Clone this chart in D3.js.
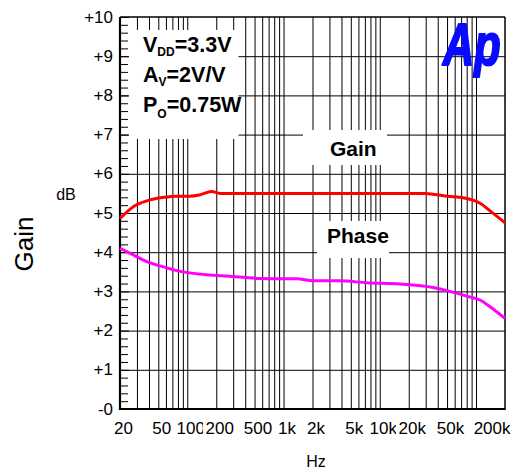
<!DOCTYPE html>
<html><head><meta charset="utf-8">
<script src="https://cdn.jsdelivr.net/npm/d3@7"></script>
<style>
html,body{margin:0;padding:0;background:#fff;}
svg{display:block;font-family:"Liberation Sans",Arial,Helvetica,sans-serif;}
</style></head>
<body><svg id="c" width="516" height="471"></svg>
<script>
// ---- data ----
const gainFreq = [20, 27.5, 38, 57, 77, 105, 133, 179, 219, 500, 1000, 2000, 5000, 10000, 29500, 49500, 80000, 110000, 151000, 200000];
const gainDb   = [4.86, 5.16, 5.31, 5.40, 5.43, 5.43, 5.46, 5.55, 5.50, 5.50, 5.50, 5.50, 5.50, 5.50, 5.50, 5.43, 5.37, 5.25, 4.99, 4.75];
const phaseFreq = [20, 27.5, 38, 52, 78, 115, 172, 257, 382, 570, 1370, 2040, 3860, 7300, 16200, 36000, 53700, 80000, 110000, 140000, 200000];
const phaseVal  = [4.10, 3.93, 3.76, 3.65, 3.53, 3.46, 3.42, 3.39, 3.36, 3.33, 3.32, 3.27, 3.27, 3.22, 3.19, 3.10, 3.00, 2.88, 2.78, 2.61, 2.31];
const xTicks = [20, 50, 100, 200, 500, 1000, 2000, 5000, 10000, 20000, 50000, 200000];
const xTickLabels = ["20", "50", "100", "200", "500", "1k", "2k", "5k", "10k", "20k", "50k", "200k"];
const yTicks = [0, 1, 2, 3, 4, 5, 6, 7, 8, 9, 10];
const yTickLabels = ["-0", "+1", "+2", "+3", "+4", "+5", "+6", "+7", "+8", "+9", "+10"];

// ---- layout ----
const L = 120, R = 505, T = 17, B = 409;
const svg = d3.select("#c");
const x = d3.scaleLog().domain([20, 200000]).range([L, R]);
const y = d3.scaleLinear().domain([0, 10]).range([B, T]);
const FONT = "'Liberation Sans',Arial,sans-serif";

// grid values
const gridF = [];
[10, 100, 1000, 10000, 100000].forEach(b => { for (let m = 1; m <= 9; m++) { const f = m * b; if (f > 20 && f < 200000) gridF.push(f); } });
const minorY = d3.range(0, 50).map(i => i / 5).filter(v => v % 1 !== 0);

// vertical grid
const gx = svg.append("g").attr("transform", `translate(0,${B})`)
  .call(d3.axisBottom(x).tickValues(gridF).tickSize(-(B - T)).tickFormat(""));
gx.select(".domain").remove();
gx.selectAll("line").attr("stroke", "#000").attr("stroke-width", 1);

// horizontal grid
const gy = svg.append("g").attr("transform", `translate(${L},0)`)
  .call(d3.axisLeft(y).tickValues(yTicks.filter(v => v > 0 && v < 10)).tickSize(-(R - L)).tickFormat(""));
gy.select(".domain").remove();
gy.selectAll("line").attr("stroke", "#000").attr("stroke-width", 1);

// white label boxes covering grid
svg.append("rect").attr("x", 128.5).attr("y", 30).attr("width", 110).attr("height", 109).attr("fill", "#fff");
svg.append("rect").attr("x", 303).attr("y", 130).attr("width", 84).attr("height", 35).attr("fill", "#fff");
svg.append("rect").attr("x", 317).attr("y", 221).attr("width", 72).attr("height", 37).attr("fill", "#fff");

// minor ticks on left
const gm = svg.append("g").attr("transform", `translate(${L},0)`)
  .call(d3.axisLeft(y).tickValues(minorY).tickSize(-8).tickFormat(""));
gm.select(".domain").remove();
gm.selectAll("line").attr("stroke", "#000").attr("stroke-width", 1);
const gM = svg.append("g").attr("transform", `translate(${L},0)`)
  .call(d3.axisLeft(y).tickValues(yTicks).tickSize(-9).tickFormat(""));
gM.select(".domain").remove();
gM.selectAll("line").attr("stroke", "#000").attr("stroke-width", 1);

// frame
svg.append("line").attr("x1", L).attr("x2", R).attr("y1", T).attr("y2", T).attr("stroke", "#000").attr("stroke-width", 1.5);
svg.append("line").attr("x1", R).attr("x2", R).attr("y1", T).attr("y2", B).attr("stroke", "#000").attr("stroke-width", 1.5);
svg.append("line").attr("x1", L).attr("x2", L).attr("y1", T).attr("y2", B + 1).attr("stroke", "#000").attr("stroke-width", 2.2);
svg.append("line").attr("x1", L - 1).attr("x2", R + 0.7).attr("y1", B).attr("y2", B).attr("stroke", "#000").attr("stroke-width", 2.2);

// curves
const line = d3.line().x(d => x(d[0])).y(d => y(d[1])).curve(d3.curveMonotoneX);
svg.append("path").datum(gainFreq.map((f, i) => [f, gainDb[i]]))
  .attr("d", line).attr("fill", "none").attr("stroke", "#ff0000").attr("stroke-width", 3);
svg.append("path").datum(phaseFreq.map((f, i) => [f, phaseVal[i]]))
  .attr("d", line).attr("fill", "none").attr("stroke", "#ff00ff").attr("stroke-width", 3);

// x tick labels with white backgrounds
const xl = svg.append("g").attr("transform", `translate(0,${B})`)
  .call(d3.axisBottom(x).tickValues(xTicks).tickSize(0).tickFormat((d, i) => xTickLabels[i]));
xl.select(".domain").remove();
xl.selectAll("text").attr("y", 25).attr("dy", 0).attr("dx", 3)
  .attr("font-size", 17).attr("font-family", FONT).attr("fill", "#000");
xl.selectAll(".tick").filter(d => d === 200000).select("text").attr("text-anchor", "end").attr("dx", 5);
xl.selectAll(".tick").each(function () {
  const g = d3.select(this), t = g.select("text"), bb = t.node().getBBox();
  g.insert("rect", "text").attr("x", bb.x - 2.5).attr("y", bb.y).attr("width", bb.width + 2.5).attr("height", bb.height).attr("fill", "#fff");
});

// y tick labels
const yl = svg.append("g").attr("transform", `translate(${L},0)`)
  .call(d3.axisLeft(y).tickValues(yTicks).tickSize(0).tickPadding(7).tickFormat((d, i) => yTickLabels[i]));
yl.select(".domain").remove();
yl.selectAll("text").attr("dy", 5).attr("font-size", 17).attr("font-family", FONT).attr("fill", "#000");

// axis titles
svg.append("text").attr("x", 316).attr("y", 467).attr("text-anchor", "middle").attr("font-size", 16).text("Hz");
svg.append("text").attr("x", 66).attr("y", 200).attr("text-anchor", "middle").attr("font-size", 16).text("dB");
svg.append("text").attr("transform", "translate(33,244) rotate(-90)").attr("text-anchor", "middle").attr("font-size", 26).text("Gain");

// conditions text
const cond = [["V", "DD", "=3.3V", 51.7, 4], ["A", "V", "=2V/V", 81.7, 4], ["P", "O", "=0.75W", 111.7, 6]];
cond.forEach(c => {
  const t = svg.append("text").attr("x", 143).attr("y", c[3]).attr("font-size", 21.5).attr("font-weight", "bold");
  t.append("tspan").text(c[0]);
  t.append("tspan").attr("font-size", 12).attr("dy", c[4]).text(c[1]);
  t.append("tspan").attr("dy", -c[4]).text(c[2]);
});
svg.append("text").attr("x", 330).attr("y", 156).attr("font-size", 21).attr("font-weight", "bold").text("Gain");
svg.append("text").attr("x", 327).attr("y", 243).attr("font-size", 21).attr("font-weight", "bold").text("Phase");

// Ap logo
svg.append("text").attr("transform", "translate(443,65) scale(0.72,1)")
  .attr("font-size", 60).attr("font-weight", "bold").attr("font-style", "italic")
  .attr("fill", "#0a0aff").attr("stroke", "#0a0aff").attr("stroke-width", 2.2).attr("stroke-linejoin", "round").text("Ap");
</script></body></html>
